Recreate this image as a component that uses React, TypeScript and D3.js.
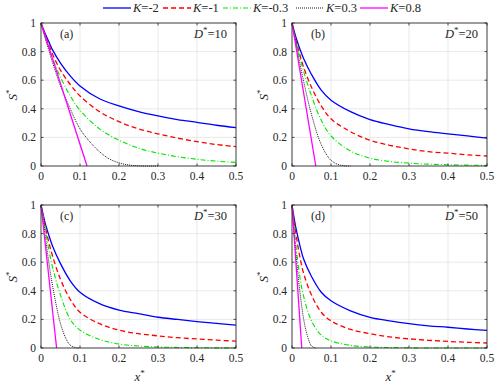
import React from "react";
import * as d3 from "d3";

// shared x positions for the blue / red / green curves
const xs = [0, 0.01, 0.02, 0.03, 0.05, 0.075, 0.1, 0.15, 0.2, 0.25, 0.3, 0.35, 0.4, 0.45, 0.5];

const panelLabels = ["(a)", "(b)", "(c)", "(d)"];
const dValues = ["10", "20", "30", "50"];

// K=-2
const blueS = [
  [1, 0.93, 0.87, 0.81, 0.72, 0.63, 0.56, 0.47, 0.42, 0.38, 0.35, 0.325, 0.305, 0.285, 0.268],
  [1, 0.9, 0.82, 0.75, 0.64, 0.53, 0.46, 0.38, 0.325, 0.29, 0.26, 0.24, 0.225, 0.21, 0.195],
  [1, 0.88, 0.79, 0.71, 0.59, 0.47, 0.39, 0.31, 0.265, 0.24, 0.215, 0.2, 0.185, 0.172, 0.16],
  [1, 0.84, 0.72, 0.62, 0.5, 0.39, 0.33, 0.26, 0.215, 0.19, 0.17, 0.155, 0.145, 0.133, 0.123],
];
// K=-1
const redS = [
  [1, 0.92, 0.85, 0.78, 0.67, 0.57, 0.49, 0.38, 0.31, 0.26, 0.225, 0.195, 0.17, 0.15, 0.135],
  [1, 0.88, 0.78, 0.69, 0.55, 0.42, 0.33, 0.24, 0.18, 0.145, 0.12, 0.1, 0.09, 0.078, 0.07],
  [1, 0.86, 0.74, 0.64, 0.48, 0.34, 0.25, 0.17, 0.125, 0.1, 0.085, 0.072, 0.063, 0.055, 0.048],
  [1, 0.8, 0.64, 0.52, 0.37, 0.25, 0.19, 0.13, 0.1, 0.078, 0.064, 0.054, 0.046, 0.04, 0.035],
];
// K=-0.3
const greenS = [
  [1, 0.91, 0.83, 0.75, 0.62, 0.49, 0.39, 0.26, 0.18, 0.125, 0.09, 0.065, 0.047, 0.034, 0.025],
  [1, 0.87, 0.76, 0.66, 0.49, 0.32, 0.21, 0.105, 0.055, 0.032, 0.02, 0.013, 0.009, 0.006, 0.004],
  [1, 0.84, 0.69, 0.56, 0.37, 0.2, 0.125, 0.06, 0.028, 0.014, 0.007, 0.004, 0.002, 0.001, 0.001],
  [1, 0.72, 0.5, 0.36, 0.19, 0.09, 0.05, 0.018, 0.007, 0.003, 0.001, 0, 0, 0, 0],
];
// K=0.3
const blackX = [
  [0, 0.01, 0.02, 0.03, 0.05, 0.075, 0.1, 0.125, 0.15, 0.175, 0.2, 0.225, 0.25, 0.3],
  [0, 0.01, 0.02, 0.03, 0.05, 0.075, 0.1, 0.125, 0.15],
  [0, 0.01, 0.02, 0.03, 0.05, 0.065, 0.075, 0.09, 0.1],
  [0, 0.01, 0.02, 0.03, 0.04, 0.05, 0.06],
];
const blackS = [
  [1, 0.9, 0.81, 0.72, 0.56, 0.4, 0.26, 0.17, 0.1, 0.05, 0.022, 0.007, 0.001, 0],
  [1, 0.86, 0.72, 0.59, 0.36, 0.15, 0.04, 0.005, 0],
  [1, 0.8, 0.6, 0.43, 0.17, 0.06, 0.02, 0.002, 0],
  [1, 0.66, 0.4, 0.2, 0.08, 0.015, 0],
];
// K=0.8
const magentaX = [
  [0, 0.118],
  [0, 0.061],
  [0, 0.04],
  [0, 0.025],
];
const magentaS = [1, 0];

const legendNames = ["-2", "-1", "-0.3", "0.3", "0.8"];
const xTicks = [0, 0.1, 0.2, 0.3, 0.4, 0.5];
const yTicks = [0, 0.2, 0.4, 0.6, 0.8, 1];

const styles = [
  { color: "#0000ff", dash: "none", width: 1.3 },
  { color: "#ff0000", dash: "5,3", width: 1.3 },
  { color: "#00e600", dash: "5,2,1,2", width: 1.1 },
  { color: "#000000", dash: "1,1", width: 0.9 },
  { color: "#ff00ff", dash: "none", width: 1.3 },
];

const font = "'Times New Roman', 'Liberation Serif', 'DejaVu Serif', serif";
const lefts = [41, 292];
const tops = [23, 205];
const pw = 195;
const ph = 143;
const legendX = [103, 163, 223, 296, 360];

const Panel = ({ idx }: { idx: number }) => {
  const left = lefts[idx % 2];
  const top = tops[Math.floor(idx / 2)];
  const x = d3.scaleLinear().domain([0, 0.5]).range([left, left + pw]);
  const y = d3.scaleLinear().domain([0, 1]).range([top + ph, top]);
  const line = d3
    .line<[number, number]>()
    .x(d => x(d[0]))
    .y(d => y(Math.max(0, d[1])))
    .curve(d3.curveCatmullRom.alpha(0.5));

  const series: [number, number][][] = [
    xs.map((v, i) => [v, blueS[idx][i]]),
    xs.map((v, i) => [v, redS[idx][i]]),
    xs.map((v, i) => [v, greenS[idx][i]]),
    blackX[idx].map((v, i) => [v, blackS[idx][i]]),
    magentaX[idx].map((v, i) => [v, magentaS[i]]),
  ];
  const bottomRow = idx >= 2;

  return (
    <g>
      {xTicks.slice(1, -1).map(t => (
        <line key={"gx" + t} x1={x(t)} x2={x(t)} y1={y(0)} y2={y(1)} stroke="#e3e3e3" strokeWidth={0.8} />
      ))}
      {yTicks.slice(1, -1).map(t => (
        <line key={"gy" + t} x1={x(0)} x2={x(0.5)} y1={y(t)} y2={y(t)} stroke="#e3e3e3" strokeWidth={0.8} />
      ))}
      {series.map((s, i) => (
        <path
          key={i}
          d={line(s) || ""}
          fill="none"
          stroke={styles[i].color}
          strokeWidth={styles[i].width}
          strokeDasharray={styles[i].dash}
        />
      ))}
      <rect x={x(0)} y={y(1)} width={pw} height={ph} fill="none" stroke="#262626" strokeWidth={0.9} />
      {xTicks.map(t => (
        <g key={"tx" + t}>
          <line x1={x(t)} x2={x(t)} y1={y(0)} y2={y(0) - 2.5} stroke="#262626" strokeWidth={0.8} />
          <line x1={x(t)} x2={x(t)} y1={y(1)} y2={y(1) + 2.5} stroke="#262626" strokeWidth={0.8} />
          <text x={x(t)} y={y(0) + 14} textAnchor="middle" fontSize={11.5} fontFamily={font} fill="#262626">
            {String(t)}
          </text>
        </g>
      ))}
      {yTicks.map(t => (
        <g key={"ty" + t}>
          <line x1={x(0)} x2={x(0) + 2.5} y1={y(t)} y2={y(t)} stroke="#262626" strokeWidth={0.8} />
          <line x1={x(0.5)} x2={x(0.5) - 2.5} y1={y(t)} y2={y(t)} stroke="#262626" strokeWidth={0.8} />
          <text x={x(0) - 5} y={y(t) + 4} textAnchor="end" fontSize={11.5} fontFamily={font} fill="#262626">
            {String(t)}
          </text>
        </g>
      ))}
      <text x={x(0) + 19} y={y(1) + 15} fontSize={12} fontFamily={font} fill="#262626">
        {panelLabels[idx]}
      </text>
      <text x={x(0.5) - 9} y={y(1) + 15} textAnchor="end" fontSize={12.5} fontFamily={font} fill="#262626">
        <tspan fontStyle="italic">D</tspan>
        <tspan fontSize={9} dy={-5}>*</tspan>
        <tspan dy={5}>={dValues[idx]}</tspan>
      </text>
      <text
        transform={`translate(${x(0) - 24},${y(0.5) + 6}) rotate(-90)`}
        fontSize={13}
        fontFamily={font}
        fill="#262626"
      >
        <tspan fontStyle="italic">S</tspan>
        <tspan fontSize={9} dy={-5}>*</tspan>
      </text>
      {bottomRow && (
        <text x={x(0.25) - 4} y={y(0) + 33} fontSize={13} fontFamily={font} fill="#262626">
          <tspan fontStyle="italic">x</tspan>
          <tspan fontSize={9} dy={-5}>*</tspan>
        </text>
      )}
    </g>
  );
};

const App = () => {
  return (
    <svg width={500} height={384} style={{ position: "absolute", left: 0, top: 0, background: "#fff" }}>
      <rect width={500} height={384} fill="#fff" />
      {legendNames.map((n, i) => (
        <g key={n}>
          <line
            x1={legendX[i]}
            x2={legendX[i] + 28}
            y1={8}
            y2={8}
            stroke={styles[i].color}
            strokeWidth={styles[i].width}
            strokeDasharray={styles[i].dash}
          />
          <text x={legendX[i] + 30} y={12} fontSize={12.5} fontFamily={font} fill="#262626">
            <tspan fontStyle="italic">K</tspan>={n}
          </text>
        </g>
      ))}
      {[0, 1, 2, 3].map(i => (
        <Panel key={i} idx={i} />
      ))}
    </svg>
  );
};

export default App;
